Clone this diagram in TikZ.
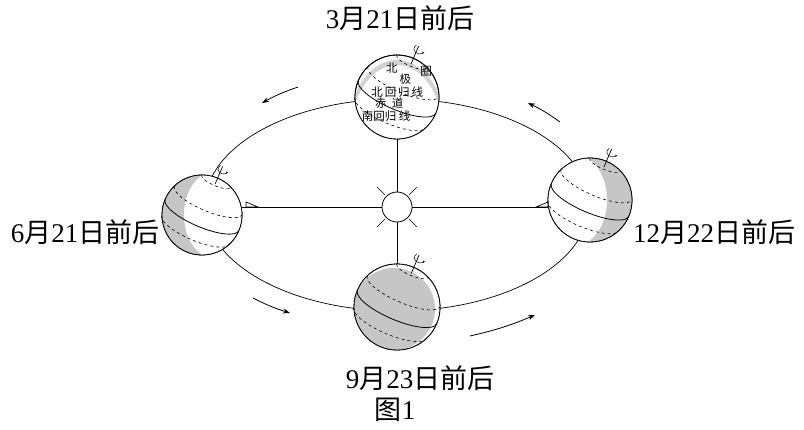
\documentclass[tikz,border=0pt]{standalone}
\usepackage{fontspec}
\setmainfont{Liberation Serif}
\newfontfamily\cjk{Noto Sans CJK SC}
\usetikzlibrary{arrows.meta}
\tikzset{
  lbl/.style={font=\fontsize{27}{30}\selectfont,inner sep=0pt},
  tiny/.style={font=\cjk\fontsize{11.5}{12}\selectfont,inner sep=0pt},
  orb/.style={line width=0.7pt},
  run/.style={line width=0.8pt,-{Stealth[length=7pt,width=5pt]}},
  globe/.style={circle,draw,line width=0.8pt,fill=white,inner sep=0pt},
}
% latitude lines of a tilted globe, radius #1
\newcommand\grid[1]{%
  \begin{scope}[rotate=-23,scale=#1]
    \draw[dashed,line width=0.6pt] (-0.4,0.92) arc (180:360:0.4 and 0.12);
    \draw[dashed,line width=0.6pt] (-0.92,0.40) arc (180:360:0.92 and 0.27);
    \draw[line width=0.8pt] (-1,0) arc (180:360:1 and 0.3);
    \draw[dashed,line width=0.6pt] (-0.92,-0.40) arc (180:360:0.92 and 0.27);
    \draw[line width=0.7pt] (0,0.85) -- (0,1.32);
    \draw[line width=0.5pt] (-0.06,1.32) .. controls (-0.16,1.12) and (0.1,1.1) .. (0.16,1.2);
    \draw[line width=0.5pt,-{Stealth[length=2.5pt]}] (0.16,1.2) -- (0.16,1.18);
  \end{scope}}
\begin{document}
\begin{tikzpicture}[x=1pt,y=1pt]
\useasboundingbox (0,0) rectangle (804,429);

\draw[orb] (397,224) ellipse (192 and 106);

\coordinate (sun) at (397,222);
\node[globe,minimum size=84] (mar) at (397,332) {};
\node[globe,minimum size=86] (sep) at (397,122) {};
\node[globe,minimum size=80] (jun) at (202,214) {};
\node[globe,minimum size=84] (dec) at (590,229) {};

\draw[orb] (jun.east |- sun) -- (dec.west |- sun);
\draw[orb] (mar.south) -- (sep.north);
\draw[orb,fill=white] (246,222) -- (258,222) -- (246,227) -- cycle;
\draw[orb,fill=white] (548,222) -- (536,222) -- (548,227) -- cycle;

% sun
\foreach \a in {45,135,225,315}
  \draw[orb] (sun) ++(\a:17) -- ++(\a:11);
\node[circle,draw,line width=0.8pt,fill=white,minimum size=30] (sunc) at (sun) {};

% shading
\begin{scope}
  \clip (jun) circle (40);
  \fill[gray!45] (jun) circle (40);
  \fill[white] ([xshift=14]jun.center) ellipse (32 and 44);
\end{scope}
\begin{scope}
  \clip (dec) circle (42);
  \fill[gray!45] (dec) circle (42);
  \fill[white] ([xshift=-16]dec.center) ellipse (33 and 46);
\end{scope}
\begin{scope}
  \clip (sep) circle (43);
  \fill[white] (sep) circle (43);
  \fill[gray!45] ([xshift=-3,yshift=-2]sep.center) circle (41);
\end{scope}
\begin{scope}
  \clip (mar) circle (42);
  \fill[gray!35] ([yshift=-38]mar.center) ellipse (50 and 75);
  \fill[white] ([yshift=-44]mar.center) ellipse (48 and 76);
\end{scope}
\foreach \g/\r in {mar/42,sep/43,jun/40,dec/42} {
  \draw[line width=0.8pt] (\g) circle (\r);
  \begin{scope}[shift={(\g)}]\grid{\r}\end{scope}
}

% names on the March globe
\begin{scope}[shift={(mar)},rotate=-14]
  \node[tiny] (t1) at (-12,27) {北};
  \node[tiny] (t2) at (4,19) {极};
  \node[tiny] (t4) at (-1,5) {北\,回\,归\,线};
  \node[tiny] (t5) at (-6,-8) {赤\ \ 道};
  \node[tiny] (t6) at (-6,-21) {南回归\ 线};
\end{scope}
\node[tiny] (t3) at ([xshift=29,yshift=26]mar.center) {圈};

% motion
\draw[run] (298,342) to[bend right=5] (262,326);
\draw[run] (560,307) to[bend right=5] (528,326);
\draw[run] (253,131) to[bend right=5] (290,116);
\draw[run] (470,93) to[bend right=5] (535,114);

\node[lbl] (lmar) at (400,411) {3{\cjk 月}21{\cjk 日前后}};
\node[lbl] (ljun) at (85,197) {6{\cjk 月}21{\cjk 日前后}};
\node[lbl] (ldec) at (714,197) {12{\cjk 月}22{\cjk 日前后}};
\node[lbl] (lsep) at (420,51) {9{\cjk 月}23{\cjk 日前后}};
\node[lbl] (fig) at (395,19) {{\cjk 图}1};
\end{tikzpicture}
\end{document}
